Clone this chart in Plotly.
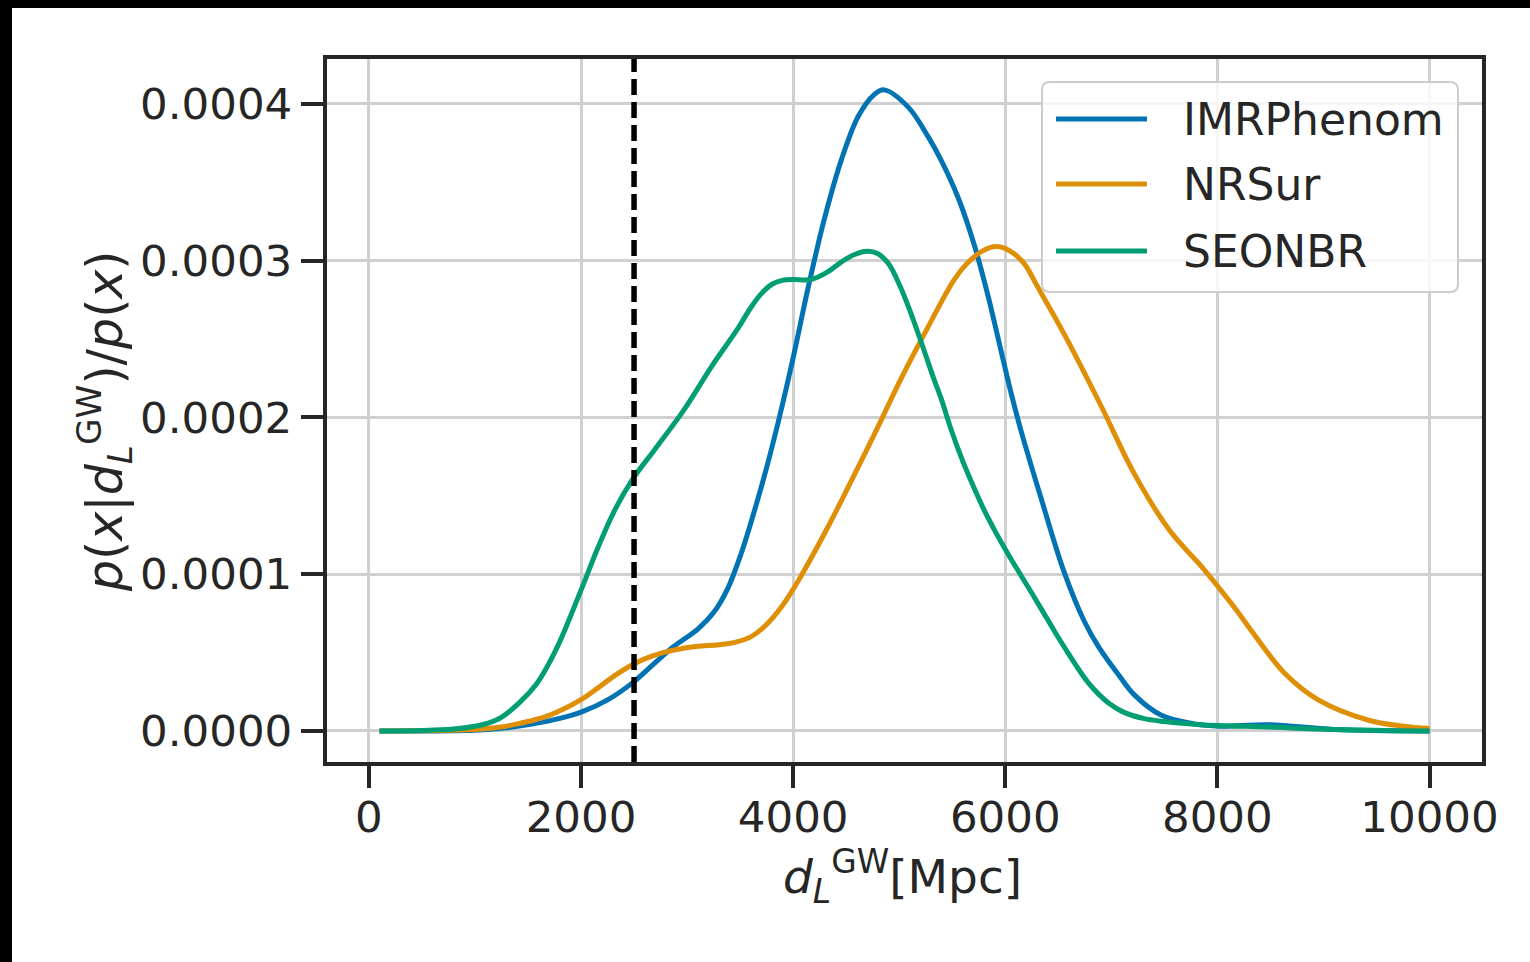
import plotly.graph_objects as go

# ---------------- data (units of 1e-5) ----------------
imr_x = [100, 1000, 1300, 1550, 1800, 2019, 2255, 2491, 2689, 2877, 3101, 3255, 3384, 3509,
         3633, 3750, 3870, 4000, 4142, 4292, 4453, 4613, 4764, 4858, 5085, 5274, 5396, 5557,
         5708, 5840, 5962, 6057, 6151, 6340, 6557, 6745, 6877, 7066, 7217, 7472, 7783, 8019,
         8481, 9104, 10000]
imr_y = [0, 0.05, 0.2, 0.45, 0.8, 1.25, 2.0, 3.1, 4.3, 5.4, 6.5, 7.6, 9.1, 11.3,
         14.0, 16.8, 20.0, 23.8, 28.3, 32.6, 36.4, 39.2, 40.6, 40.9, 39.8, 37.9, 36.4, 34.0,
         31.0, 27.7, 24.2, 21.5, 19.1, 14.8, 10.1, 7.0, 5.4, 3.6, 2.3, 1.0, 0.45, 0.3,
         0.4, 0.1, 0]

nrs_x = [100, 1000, 1245, 1400, 1557, 1700, 1850, 2000, 2150, 2300, 2450, 2600, 2750, 2900,
         3100, 3300, 3450, 3600, 3750, 3900, 4050, 4200, 4350, 4500, 4764, 5019, 5274, 5519,
         5650, 5780, 5915, 6050, 6180, 6300, 6557, 6906, 7217, 7538, 7700, 7849, 8019, 8170,
         8321, 8632, 8947, 9418, 9755, 10000]
nrs_y = [0, 0.1, 0.25, 0.45, 0.7, 1.0, 1.45, 2.0, 2.7, 3.45, 4.1, 4.6, 4.95, 5.2,
         5.4, 5.5, 5.65, 6.0, 6.8, 8.0, 9.6, 11.4, 13.3, 15.3, 18.9, 22.5, 25.8, 28.8,
         29.9, 30.6, 30.9, 30.6, 29.8, 28.4, 25.3, 20.7, 16.4, 12.9, 11.6, 10.5, 9.1, 7.8,
         6.4, 3.7, 2.0, 0.7, 0.3, 0.15]

seo_x = [100, 500, 800, 1000, 1123, 1245, 1434, 1580, 1689, 1800, 1900, 2019, 2160, 2311,
         2490, 2689, 2972, 3226, 3481, 3600, 3700, 3800, 3900, 4000, 4170, 4330, 4450, 4580,
         4700, 4800, 4900, 5000, 5085, 5208, 5330, 5396, 5491, 5600, 5700, 5800, 5900, 6000,
         6123, 6250, 6360, 6470, 6580, 6680, 6780, 6880, 6980, 7100, 7300, 7500, 7849, 8481,
         9104, 10000]
seo_y = [0, 0.03, 0.12, 0.3, 0.5, 0.85, 1.9, 3.0, 4.2, 5.7, 7.3, 9.3, 11.7, 14.0,
         16.1, 17.9, 20.5, 23.2, 25.7, 27.0, 27.9, 28.5, 28.75, 28.8, 28.8, 29.3, 29.9, 30.4,
         30.6, 30.45, 29.8, 28.5, 27.1, 24.8, 22.4, 21.2, 19.2, 17.2, 15.6, 14.1, 12.8, 11.6,
         10.2, 8.8, 7.55, 6.3, 5.1, 4.05, 3.1, 2.35, 1.75, 1.25, 0.8, 0.6, 0.4, 0.25,
         0.1, 0]

series_names = ["IMRPhenom", "NRSur", "SEONBR"]
series_colors = ["#0173b2", "#de8f05", "#029e73"]
scale = 1e-5

x_ticks = [0, 2000, 4000, 6000, 8000, 10000]
y_ticks = [0.0, 0.0001, 0.0002, 0.0003, 0.0004]
y_ticktext = ["0.0000", "0.0001", "0.0002", "0.0003", "0.0004"]
vline_x = 2500

# ---------------- figure ----------------
W, H = 1530, 962
L, R, T, B = 327, 48, 59, 200
pw, ph = W - L - R, H - T - B
FONT = "DejaVu Sans"
TXT = "#262626"
FS_TICK = 43.5
FS_LEG = 44
FS_XT = 47
FS_YT = 49


def px2paper_x(px):
    return (px - L) / pw


def px2paper_y(py):
    return (H - B - py) / ph


fig = go.Figure()
for xs, ys, name, col in zip([imr_x, nrs_x, seo_x], [imr_y, nrs_y, seo_y],
                             series_names, series_colors):
    fig.add_trace(go.Scatter(
        x=xs, y=[v * scale for v in ys], mode="lines", name=name,
        line=dict(color=col, width=5, shape="spline", smoothing=1.0),
        showlegend=False))

axis_common = dict(
    showline=True, linecolor=TXT, linewidth=4, mirror=True,
    ticks="outside", ticklen=22, tickwidth=3.5, tickcolor=TXT,
    showgrid=True, gridcolor="#d0d0d0", gridwidth=2.5, zeroline=False,
    tickfont=dict(family=FONT, size=FS_TICK, color=TXT),
)

fig.update_xaxes(range=[-395, 10495], tickvals=x_ticks, ticktext=[str(v) for v in x_ticks],
                 ticklabelstandoff=-8, **axis_common)
fig.update_yaxes(range=[-0.0000198, 0.0004287], tickvals=y_ticks, ticktext=y_ticktext,
                 **axis_common)

shapes = []
# dashed vertical line
shapes.append(dict(type="line", xref="x", yref="paper", x0=vline_x, x1=vline_x, y0=0, y1=1,
                   line=dict(color="black", width=5.5, dash="16px,7px"), layer="above"))

# legend box (rounded)
bx0, bx1 = px2paper_x(1042), px2paper_x(1458)
by0, by1 = px2paper_y(292), px2paper_y(82)
rx, ry = 8 / pw, 8 / ph
path = (f"M{bx0+rx},{by0} L{bx1-rx},{by0} Q{bx1},{by0} {bx1},{by0+ry} "
        f"L{bx1},{by1-ry} Q{bx1},{by1} {bx1-rx},{by1} L{bx0+rx},{by1} "
        f"Q{bx0},{by1} {bx0},{by1-ry} L{bx0},{by0+ry} Q{bx0},{by0} {bx0+rx},{by0} Z")
shapes.append(dict(type="path", xref="paper", yref="paper", path=path,
                   fillcolor="rgba(255,255,255,0.8)", line=dict(color="#cccccc", width=2),
                   layer="above"))

annotations = []
row_y = [119, 184, 251]
for name, col, ry_px in zip(series_names, series_colors, row_y):
    yy = px2paper_y(ry_px)
    shapes.append(dict(type="line", xref="paper", yref="paper",
                       x0=px2paper_x(1056), x1=px2paper_x(1147), y0=yy, y1=yy,
                       line=dict(color=col, width=5), layer="above"))
    annotations.append(dict(text=name, xref="paper", yref="paper", x=px2paper_x(1181), y=yy,
                            xanchor="left", yanchor="middle", showarrow=False,
                            font=dict(family=FONT, size=FS_LEG, color=TXT)))

# black edge strips as in the reference image
shapes.append(dict(type="rect", xref="paper", yref="paper",
                   x0=px2paper_x(0), x1=px2paper_x(12), y0=px2paper_y(H), y1=px2paper_y(0),
                   fillcolor="black", line=dict(width=0), layer="above"))
shapes.append(dict(type="rect", xref="paper", yref="paper",
                   x0=px2paper_x(0), x1=px2paper_x(W), y0=px2paper_y(8), y1=px2paper_y(0),
                   fillcolor="black", line=dict(width=0), layer="above"))

# axis titles
annotations.append(dict(
    text="<i>d</i><sub><i>L</i></sub><sup>GW</sup>[Mpc]", xref="paper", yref="paper",
    x=px2paper_x(902), y=px2paper_y(876), xanchor="center", yanchor="middle",
    showarrow=False, font=dict(family=FONT, size=FS_XT, color=TXT)))
annotations.append(dict(
    text="<i>p</i>(<i>x</i>|<i>d</i><sub><i>L</i></sub><sup>GW</sup>)/<i>p</i>(<i>x</i>)",
    xref="paper", yref="paper", x=px2paper_x(104), y=px2paper_y(422),
    xanchor="center", yanchor="middle", textangle=-90,
    showarrow=False, font=dict(family=FONT, size=FS_YT, color=TXT)))

fig.update_layout(
    width=W, height=H, margin=dict(l=L, r=R, t=T, b=B, autoexpand=False),
    paper_bgcolor="white", plot_bgcolor="white",
    font=dict(family=FONT, size=FS_TICK, color=TXT),
    shapes=shapes, annotations=annotations, showlegend=False,
)

fig.write_html("out.html")
